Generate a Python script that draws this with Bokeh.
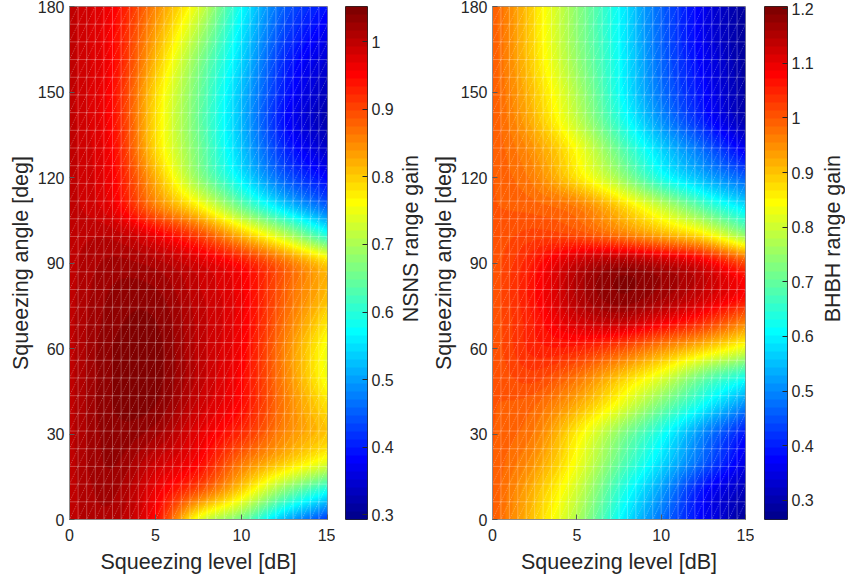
import numpy as np
from bokeh.plotting import figure
from bokeh.layouts import row
from bokeh.models import (LinearColorMapper, FixedTicker, LinearAxis, Range1d,
                          CustomJSTickFormatter)
from bokeh.core.properties import value
from bokeh.embed import file_html
from bokeh.resources import INLINE

# ---------------------------------------------------------------------------
# Range gain versus squeezing level and squeezing angle
# ---------------------------------------------------------------------------
LEVELS_DB = [0.0, 2.5, 5.0, 7.5, 10.0, 12.5, 15.0]
ANGLES_DEG = [0, 10, 20, 30, 40, 50, 60, 70, 80, 90,
              100, 110, 120, 130, 140, 150, 160, 170, 180]

# one row per squeezing angle, one column per squeezing level
NSNS_GAIN = [
    [1.00, 1.010, 0.945, 0.745, 0.655, 0.520, 0.420],
    [1.00, 1.020, 0.965, 0.890, 0.790, 0.670, 0.580],
    [1.00, 1.030, 0.990, 0.950, 0.865, 0.800, 0.740],
    [1.00, 1.035, 1.020, 0.970, 0.920, 0.850, 0.800],
    [1.00, 1.040, 1.040, 0.990, 0.945, 0.860, 0.780],
    [1.00, 1.040, 1.045, 1.000, 0.950, 0.855, 0.750],
    [1.00, 1.040, 1.045, 1.000, 0.955, 0.855, 0.750],
    [1.00, 1.035, 1.040, 1.000, 0.960, 0.870, 0.780],
    [1.00, 1.030, 1.030, 0.995, 0.960, 0.880, 0.810],
    [1.00, 1.020, 1.010, 0.980, 0.940, 0.870, 0.790],
    [1.00, 1.000, 0.960, 0.900, 0.810, 0.710, 0.590],
    [1.00, 0.965, 0.860, 0.770, 0.650, 0.540, 0.450],
    [1.00, 0.955, 0.820, 0.680, 0.560, 0.450, 0.380],
    [1.00, 0.950, 0.790, 0.660, 0.530, 0.410, 0.340],
    [1.00, 0.945, 0.785, 0.650, 0.520, 0.390, 0.320],
    [1.00, 0.945, 0.790, 0.655, 0.525, 0.400, 0.330],
    [1.00, 0.950, 0.810, 0.670, 0.540, 0.410, 0.345],
    [1.00, 0.950, 0.830, 0.700, 0.555, 0.430, 0.365],
    [1.00, 0.955, 0.850, 0.735, 0.575, 0.450, 0.390],
]

BHBH_GAIN = [
    [1.00, 0.895, 0.770, 0.615, 0.480, 0.370, 0.280],
    [1.00, 0.910, 0.800, 0.650, 0.520, 0.385, 0.310],
    [1.00, 0.940, 0.835, 0.700, 0.580, 0.460, 0.350],
    [1.00, 0.965, 0.860, 0.740, 0.625, 0.500, 0.390],
    [1.00, 0.985, 0.920, 0.830, 0.720, 0.610, 0.500],
    [1.00, 1.020, 0.975, 0.900, 0.820, 0.710, 0.630],
    [1.00, 1.050, 1.050, 1.010, 0.950, 0.890, 0.820],
    [1.00, 1.060, 1.120, 1.140, 1.100, 1.050, 0.970],
    [1.00, 1.070, 1.150, 1.190, 1.170, 1.130, 1.080],
    [1.00, 1.060, 1.130, 1.160, 1.140, 1.100, 1.010],
    [1.00, 1.020, 1.010, 0.970, 0.920, 0.860, 0.740],
    [1.00, 0.990, 0.965, 0.890, 0.790, 0.680, 0.580],
    [1.00, 0.960, 0.870, 0.760, 0.630, 0.540, 0.460],
    [1.00, 0.940, 0.840, 0.700, 0.570, 0.470, 0.360],
    [1.00, 0.910, 0.790, 0.645, 0.510, 0.400, 0.300],
    [1.00, 0.895, 0.770, 0.620, 0.480, 0.380, 0.290],
    [1.00, 0.880, 0.750, 0.615, 0.470, 0.370, 0.285],
    [1.00, 0.875, 0.740, 0.610, 0.465, 0.360, 0.280],
    [1.00, 0.875, 0.740, 0.610, 0.465, 0.360, 0.280],
]

# colour limits of the two colour bars
NSNS_CLIM = (0.293, 1.052)
BHBH_CLIM = (0.265, 1.204)

X_TICKS = [0, 5, 10, 15]
Y_TICKS = [0, 30, 60, 90, 120, 150, 180]
NSNS_CB_TICKS = [0.3, 0.4, 0.5, 0.6, 0.7, 0.8, 0.9, 1.0]
BHBH_CB_TICKS = [0.3, 0.4, 0.5, 0.6, 0.7, 0.8, 0.9, 1.0, 1.1, 1.2]

FONT = "Liberation Sans"
TXT = "#262626"
TICK_SIZE = "16px"
LABEL_SIZE = "21.5px"
FIG_H = 580
BORDER_TOP = 6
BORDER_BOTTOM = 61


def jet(n=64):
    """MATLAB-style jet colormap with n entries."""
    m = int(np.ceil(n / 4))
    u = np.concatenate([np.arange(1, m + 1) / m, np.ones(m - 1),
                        np.arange(m, 0, -1) / m])
    g = int(np.ceil(n / 8)) - (1 if n % 4 == 1 else 0) + np.arange(1, len(u) + 1)
    r = g + m
    b = g - m
    cmap = np.zeros((n, 3))
    rr, gg, bb = r[r <= n], g[g <= n], b[b >= 1]
    cmap[rr - 1, 0] = u[:len(rr)]
    cmap[gg - 1, 1] = u[:len(gg)]
    cmap[bb - 1, 2] = u[len(u) - len(bb):]
    return ["#%02x%02x%02x" % tuple(int(round(c * 255)) for c in rgb)
            for rgb in cmap]


PALETTE = jet(64)


def smooth_axis(vals, n_out):
    """Catmull-Rom shading along the last axis (interpolated surface shading)."""
    vals = np.asarray(vals, dtype=float)
    n = vals.shape[-1]
    t = (np.arange(n_out) + 0.5) / n_out * (n - 1)
    i = np.clip(np.floor(t).astype(int), 0, n - 2)
    u = t - i
    ext = np.concatenate([2 * vals[..., :1] - vals[..., 1:2], vals,
                          2 * vals[..., -1:] - vals[..., -2:-1]], axis=-1)
    p0, p1, p2, p3 = ext[..., i], ext[..., i + 1], ext[..., i + 2], ext[..., i + 3]
    return 0.5 * (2 * p1 + (-p0 + p2) * u + (2 * p0 - 5 * p1 + 4 * p2 - p3) * u ** 2
                  + (-p0 + 3 * p1 - 3 * p2 + p3) * u ** 3)


def shaded_surface(gain, nx, ny):
    z = smooth_axis(np.asarray(gain), nx)          # along squeezing level
    z = smooth_axis(z.T, ny).T                     # along squeezing angle
    return z


def style_axis(ax):
    ax.major_label_text_font = FONT
    ax.major_label_text_font_size = TICK_SIZE
    ax.major_label_text_color = TXT
    ax.axis_label_text_font = FONT
    ax.axis_label_text_font_size = LABEL_SIZE
    ax.axis_label_text_font_style = "normal"
    ax.axis_label_text_color = TXT
    ax.major_tick_in = 5
    ax.major_tick_out = 0
    ax.minor_tick_line_color = None
    ax.axis_line_color = "#8c8c8c"
    ax.major_tick_line_color = "#595959"


def heat_panel(gain, clim, width, b_left, b_right):
    frame_w = width - b_left - b_right
    frame_h = FIG_H - BORDER_TOP - BORDER_BOTTOM
    p = figure(width=width, height=FIG_H, x_range=Range1d(0, 15),
               y_range=Range1d(0, 180), output_backend="svg",
               toolbar_location=None, min_border_left=b_left,
               min_border_right=b_right, min_border_top=BORDER_TOP,
               min_border_bottom=BORDER_BOTTOM)
    mapper = LinearColorMapper(palette=PALETTE, low=clim[0], high=clim[1])
    z = shaded_surface(gain, frame_w, frame_h)
    p.image(image=[z], x=0, y=0, dw=15, dh=180, color_mapper=mapper)

    # faint triangulated surface mesh
    mx = np.linspace(0, 15, 31)
    my = np.linspace(0, 180, 30)
    mesh = dict(line_color="white", line_alpha=0.28, line_width=1)
    p.segment(x0=mx[1:-1], y0=0, x1=mx[1:-1], y1=180, **mesh)
    p.segment(x0=0, y0=my[1:-1], x1=15, y1=my[1:-1], **mesh)
    gx, gy = np.meshgrid(np.arange(30), np.arange(29))
    p.segment(x0=mx[gx.ravel()], y0=my[gy.ravel()],
              x1=mx[gx.ravel() + 1], y1=my[gy.ravel() + 1],
              line_color="white", line_alpha=0.3, line_width=1,
              line_dash="1 1")

    p.xaxis.ticker = FixedTicker(ticks=X_TICKS)
    p.yaxis.ticker = FixedTicker(ticks=Y_TICKS)
    p.xaxis.axis_label = "Squeezing level [dB]"
    p.yaxis.axis_label = "Squeezing angle [deg]"
    for ax in (p.xaxis[0], p.yaxis[0]):
        style_axis(ax)
    p.xaxis.major_label_standoff = 9
    p.xaxis.axis_label_standoff = 6
    p.yaxis.major_label_standoff = 5
    p.yaxis.axis_label_standoff = 2
    p.grid.visible = False
    p.outline_line_color = "#8c8c8c"
    p.background_fill_color = "white"
    p.border_fill_color = "white"
    return p


def colour_bar(clim, ticks, width, b_left, b_right):
    cb = figure(width=width, height=FIG_H, x_range=Range1d(0, 1),
                y_range=Range1d(clim[0], clim[1]), output_backend="svg",
                toolbar_location=None, min_border_left=b_left,
                min_border_right=b_right, min_border_top=BORDER_TOP,
                min_border_bottom=BORDER_BOTTOM)
    mapper = LinearColorMapper(palette=PALETTE, low=clim[0], high=clim[1])
    ramp = np.linspace(clim[0], clim[1], 1024)[:, None]
    cb.image(image=[ramp], x=0, y=clim[0], dw=1, dh=clim[1] - clim[0],
             color_mapper=mapper)
    cb.xaxis.visible = False
    cb.yaxis.visible = False
    cb.grid.visible = False
    ax = LinearAxis(ticker=FixedTicker(ticks=ticks),
                    formatter=CustomJSTickFormatter(
                        code="return String(Math.round(tick * 10) / 10);"))
    style_axis(ax)
    ax.axis_line_color = None
    ax.major_tick_line_color = TXT
    ax.major_label_standoff = 4
    cb.add_layout(ax, "right")
    cb.outline_line_color = TXT
    return cb


def bar_title(label, width, centre):
    """Narrow strip carrying the vertical colour-bar title."""
    t = figure(width=width, height=FIG_H, x_range=Range1d(0, width),
               y_range=Range1d(0, FIG_H), output_backend="svg",
               toolbar_location=None, min_border=0)
    t.axis.visible = False
    t.grid.visible = False
    t.outline_line_color = None
    mid = FIG_H - (BORDER_TOP + (FIG_H - BORDER_BOTTOM)) / 2
    t.text(x=[centre], y=[mid], text=[label], angle=np.pi / 2,
           text_align="center", text_baseline="middle",
           text_font=value(FONT), text_font_size=LABEL_SIZE, text_color=TXT)
    return t


left = heat_panel(NSNS_GAIN, NSNS_CLIM, width=335, b_left=69, b_right=8)
left_cb = colour_bar(NSNS_CLIM, NSNS_CB_TICKS, width=65, b_left=10, b_right=33)
left_title = bar_title("NSNS range gain", width=28, centre=10)
right = heat_panel(BHBH_GAIN, BHBH_CLIM, width=326, b_left=61, b_right=9)
right_cb = colour_bar(BHBH_CLIM, BHBH_CB_TICKS, width=66, b_left=10, b_right=33)
right_title = bar_title("BHBH range gain", width=25, centre=12)

page = row(left, left_cb, left_title, right, right_cb, right_title, spacing=0)

with open("out.html", "w") as fh:
    fh.write(file_html(page, INLINE))
